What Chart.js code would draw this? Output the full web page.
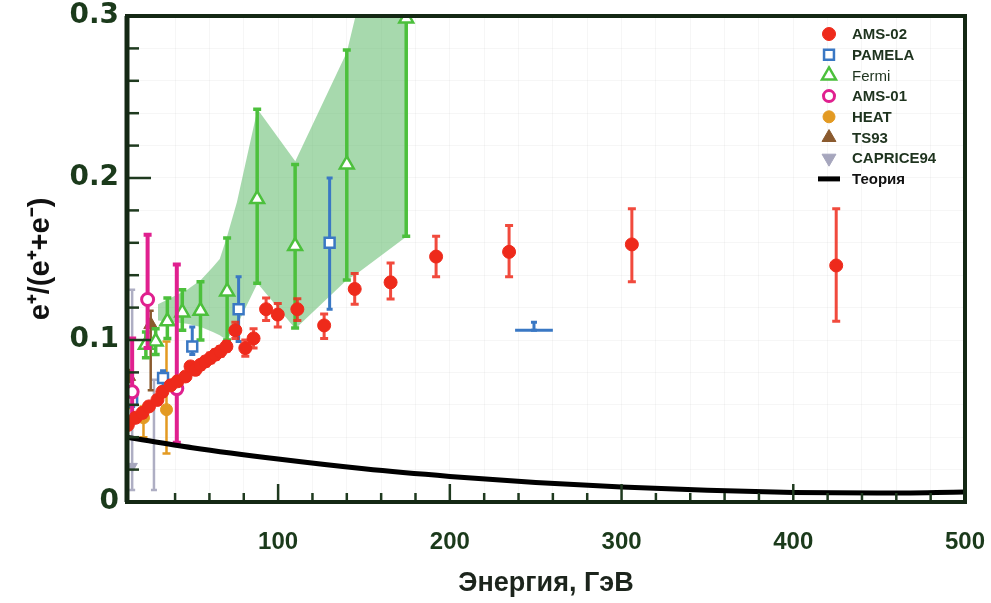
<!DOCTYPE html>
<html>
<head>
<meta charset="utf-8">
<script src="https://cdn.jsdelivr.net/npm/chart.js@4.4.1/dist/chart.umd.min.js"></script>
<style>
  html, body { margin: 0; padding: 0; background: #ffffff; }
  #wrap { width: 991px; height: 603px; position: relative; }
</style>
</head>
<body>
<div id="wrap"><canvas id="myChart"></canvas></div>
<script>

// ===============================
// DATA
// ===============================

const amsE  = [12.5, 17, 21, 24.8, 29.7, 32.6, 37.4, 41.4, 46.1, 49, 51.9, 54.8, 57.7, 60.6, 63.5, 66.4, 69.9, 75.1, 80.9, 85.7, 93, 99.8, 111.2, 126.8, 144.6, 165.5, 192, 234.5, 306, 425];
const amsR  = [0.0476, 0.052, 0.055, 0.059, 0.063, 0.068, 0.072, 0.0745, 0.0775, 0.0837, 0.0816, 0.0847, 0.0868, 0.0889, 0.091, 0.093, 0.096, 0.106, 0.095, 0.101, 0.119, 0.1157, 0.119, 0.109, 0.1315, 0.1356, 0.1515, 0.1544, 0.159, 0.146];
const amsLo = [0.045, 0.0495, 0.0525, 0.0565, 0.0605, 0.0655, 0.0695, 0.072, 0.075, 0.081, 0.079, 0.082, 0.084, 0.086, 0.088, 0.090, 0.093, 0.101, 0.090, 0.095, 0.112, 0.108, 0.112, 0.101, 0.122, 0.1253, 0.139, 0.139, 0.136, 0.1115];
const amsHi = [0.050, 0.0545, 0.0575, 0.0615, 0.0655, 0.0705, 0.0745, 0.077, 0.080, 0.086, 0.084, 0.087, 0.0895, 0.092, 0.094, 0.096, 0.099, 0.111, 0.100, 0.107, 0.126, 0.1225, 0.1255, 0.116, 0.141, 0.1476, 0.164, 0.1707, 0.181, 0.181];

const pamE   = [15, 33, 50, 77, 130, 249];
const pamR   = [0.063, 0.0765, 0.096, 0.119, 0.160, 0.106];
const pamLo  = [0.059, 0.070, 0.091, 0.099, 0.119, 0.106];
const pamHi  = [0.067, 0.081, 0.108, 0.139, 0.200, 0.111];
const pamXLo = [null, null, null, null, null, 238];
const pamXHi = [null, null, null, null, null, 260];

const fermiE  = [23, 28.7, 35.5, 44.2, 54.8, 70.3, 87.8, 109.9, 140, 174.6];
const fermiR  = [0.097, 0.099, 0.1115, 0.117, 0.118, 0.130, 0.187, 0.158, 0.2084, 0.2985];
const fermiLo = [0.089, 0.091, 0.101, 0.106, 0.100, 0.100, 0.135, 0.1074, 0.137, 0.164];
const fermiHi = [0.105, 0.107, 0.126, 0.131, 0.136, 0.163, 0.2424, 0.2084, 0.279, 0.40];

const bandE  = [30, 47, 55, 62, 66, 70, 76, 88, 110, 140, 146, 175];
const bandLo = [0.112, 0.110, 0.108, 0.105, 0.103, 0.100, 0.109, 0.135, 0.107, 0.137, 0.141, 0.164];
const bandHi = [0.122, 0.131, 0.137, 0.145, 0.150, 0.163, 0.185, 0.2424, 0.2104, 0.2776, 0.304, 0.33];

const ams01E  = [15, 24, 41];
const ams01R  = [0.068, 0.125, 0.070];
const ams01Lo = [0.049, 0.095, 0.0365];
const ams01Hi = [0.101, 0.165, 0.1466];

const heatE  = [12.5, 21.6, 35];
const heatR  = [0.062, 0.052, 0.057];
const heatLo = [0.058, 0.040, 0.030];
const heatHi = [0.066, 0.059, 0.099];

const ts93E  = [13, 25.8];
const ts93R  = [0.0775, 0.1095];
const ts93Lo = [0.074, 0.069];
const ts93Hi = [0.081, 0.118];

const capE  = [15, 27.7];
const capR  = [0.022, 0.040];
const capLo = [0.0074, 0.0074];
const capHi = [0.131, 0.0755];

const theoryE = [12, 50, 100, 150, 200, 250, 300, 350, 400, 450, 500];
const theoryR = [0.040, 0.0335, 0.0265, 0.0205, 0.0158, 0.012, 0.0092, 0.0072, 0.0059, 0.0055, 0.0062];

const legendLabels = ['AMS-02', 'PAMELA', 'Fermi', 'AMS-01', 'HEAT', 'TS93', 'CAPRICE94', 'Теория'];

function pts(xs, ys){
    return xs.map((x, i) => ({ x: x, y: ys[i] }));
}

// ===============================
// ERROR BARS
// ===============================

const errorBars = {
    id: 'errorBars',
    beforeDatasetDraw(chart, args){
        const ds = chart.data.datasets[args.index];
        if(!ds.errLo) return;
        const ctx = chart.ctx;
        const xs = chart.scales.x;
        const ys = chart.scales.y;
        const a = chart.chartArea;
        ctx.save();
        ctx.beginPath();
        ctx.rect(a.left, a.top, a.right - a.left, a.bottom - a.top);
        ctx.clip();
        ctx.strokeStyle = ds.errColor;
        ctx.lineWidth = ds.errWidth;
        const cap = ds.capWidth;
        args.meta.data.forEach((pt, i) => {
            const px = pt.x;
            const lo = ys.getPixelForValue(ds.errLo[i]);
            const hi = ys.getPixelForValue(ds.errHi[i]);
            ctx.beginPath();
            ctx.moveTo(px, lo);
            ctx.lineTo(px, hi);
            ctx.moveTo(px - cap, lo);
            ctx.lineTo(px + cap, lo);
            ctx.moveTo(px - cap, hi);
            ctx.lineTo(px + cap, hi);
            ctx.stroke();
            if(ds.errXLo && ds.errXLo[i] != null){
                ctx.beginPath();
                ctx.moveTo(xs.getPixelForValue(ds.errXLo[i]), pt.y);
                ctx.lineTo(xs.getPixelForValue(ds.errXHi[i]), pt.y);
                ctx.stroke();
            }
        });
        ctx.restore();
    }
};

// ===============================
// FRAME, INNER TICKS, LEGEND
// ===============================

function drawMarker(ctx, style, rot, r, x, y){
    ctx.beginPath();
    if(style === 'circle'){
        ctx.arc(x, y, r, 0, Math.PI * 2);
    }
    else if(style === 'rect'){
        const s = r * Math.SQRT1_2;
        ctx.rect(x - s, y - s, s * 2, s * 2);
    }
    else if(style === 'triangle'){
        const d = rot === 180 ? -1 : 1;
        ctx.moveTo(x, y - d * r);
        ctx.lineTo(x + r * 0.87, y + d * r * 0.5);
        ctx.lineTo(x - r * 0.87, y + d * r * 0.5);
        ctx.closePath();
    }
}

const frameAndLegend = {
    id: 'frameAndLegend',
    afterDraw(chart){
        const ctx = chart.ctx;
        const a = chart.chartArea;
        const xs = chart.scales.x;
        const ys = chart.scales.y;

        // inner ticks
        ctx.save();
        ctx.strokeStyle = '#1f3a1f';
        ctx.lineWidth = 2.5;
        xs.ticks.forEach(t => {
            if(t.value <= xs.min || t.value >= xs.max) return;
            const px = xs.getPixelForValue(t.value);
            const len = t.value % 100 === 0 ? 18 : 9;
            ctx.beginPath();
            ctx.moveTo(px, a.bottom);
            ctx.lineTo(px, a.bottom - len);
            ctx.stroke();
        });
        ys.ticks.forEach(t => {
            if(t.value <= ys.min || t.value >= ys.max - 1e-9) return;
            const py = ys.getPixelForValue(t.value);
            const len = Math.round(t.value * 100) % 10 === 0 ? 24 : 12;
            ctx.beginPath();
            ctx.moveTo(a.left, py);
            ctx.lineTo(a.left + len, py);
            ctx.stroke();
        });

        // frame
        ctx.strokeStyle = '#142814';
        ctx.lineWidth = 4;
        ctx.strokeRect(a.left, a.top, a.right - a.left, a.bottom - a.top);
        ctx.lineWidth = 5;
        ctx.beginPath();
        ctx.moveTo(a.left, a.top);
        ctx.lineTo(a.left, a.bottom);
        ctx.stroke();

        // legend
        const lx = 829, tx = 852, ly0 = 34, step = 20.7;
        const items = chart.data.datasets.filter(d => d.inLegend);
        items.forEach((d, i) => {
            const y = ly0 + i * step;
            if(d.legendLine){
                ctx.strokeStyle = d.borderColor;
                ctx.lineWidth = 5;
                ctx.beginPath();
                ctx.moveTo(lx - 11, y);
                ctx.lineTo(lx + 11, y);
                ctx.stroke();
            }
            else{
                drawMarker(ctx, d.pointStyle, d.pointRotation || 0, d.legendRadius, lx, y);
                ctx.fillStyle = d.pointBackgroundColor;
                ctx.fill();
                ctx.strokeStyle = d.pointBorderColor;
                ctx.lineWidth = d.pointBorderWidth;
                ctx.stroke();
            }
            ctx.fillStyle = d.legendLine ? '#111111' : '#1e331e';
            ctx.font = (d.label === 'Fermi' ? '' : 'bold ') + '15px "Liberation Sans", Arial, sans-serif';
            ctx.textBaseline = 'middle';
            ctx.textAlign = 'left';
            ctx.fillText(d.label, tx, y + 1);
        });
        ctx.restore();
    }
};

// ===============================
// DATASETS
// ===============================

const datasets = [
    {
        label: 'FermiBandLo', data: pts(bandE, bandLo), showLine: true,
        pointRadius: 0, borderWidth: 0, fill: false, order: 100
    },
    {
        label: 'FermiBandHi', data: pts(bandE, bandHi), showLine: true,
        pointRadius: 0, borderWidth: 0, fill: '-1',
        backgroundColor: 'rgba(95,185,105,0.55)', order: 99
    },
    {
        label: legendLabels[0], data: pts(amsE, amsR), inLegend: true,
        pointStyle: 'circle', pointRadius: 6.5, legendRadius: 6.5,
        pointBackgroundColor: '#ee2a1b', pointBorderColor: '#ee2a1b', pointBorderWidth: 1,
        errLo: amsLo, errHi: amsHi, errColor: 'rgba(238,42,27,0.85)', errWidth: 3, capWidth: 4,
        order: 2
    },
    {
        label: legendLabels[1], data: pts(pamE, pamR), inLegend: true,
        pointStyle: 'rect', pointRadius: [7, 7, 7, 7, 7, 0], legendRadius: 7,
        pointBackgroundColor: '#ffffff', pointBorderColor: '#3a78c4', pointBorderWidth: 2.5,
        errLo: pamLo, errHi: pamHi, errXLo: pamXLo, errXHi: pamXHi,
        errColor: '#3a78c4', errWidth: 3, capWidth: 3,
        order: 4
    },
    {
        label: legendLabels[2], data: pts(fermiE, fermiR), inLegend: true,
        pointStyle: 'triangle', pointRadius: 8, legendRadius: 8,
        pointBackgroundColor: '#ffffff', pointBorderColor: '#4cc03c', pointBorderWidth: 2.5,
        errLo: fermiLo, errHi: fermiHi, errColor: '#4cc03c', errWidth: 3.5, capWidth: 4,
        order: 5
    },
    {
        label: legendLabels[3], data: pts(ams01E, ams01R), inLegend: true,
        pointStyle: 'circle', pointRadius: 6, legendRadius: 5.5,
        pointBackgroundColor: '#ffffff', pointBorderColor: '#e0208f', pointBorderWidth: 3,
        errLo: ams01Lo, errHi: ams01Hi, errColor: '#e0208f', errWidth: 4, capWidth: 4,
        order: 3
    },
    {
        label: legendLabels[4], data: pts(heatE, heatR), inLegend: true,
        pointStyle: 'circle', pointRadius: 6, legendRadius: 6,
        pointBackgroundColor: '#e39a22', pointBorderColor: '#e39a22', pointBorderWidth: 1,
        errLo: heatLo, errHi: heatHi, errColor: '#e39a22', errWidth: 2.5, capWidth: 4,
        order: 6
    },
    {
        label: legendLabels[5], data: pts(ts93E, ts93R), inLegend: true,
        pointStyle: 'triangle', pointRadius: 8, legendRadius: 8,
        pointBackgroundColor: '#8a5a2e', pointBorderColor: '#8a5a2e', pointBorderWidth: 1,
        errLo: ts93Lo, errHi: ts93Hi, errColor: '#8a5a2e', errWidth: 2.5, capWidth: 3,
        order: 7
    },
    {
        label: legendLabels[6], data: pts(capE, capR), inLegend: true,
        pointStyle: 'triangle', pointRotation: 180, rotation: 180, pointRadius: [6, 0], legendRadius: 8,
        pointBackgroundColor: '#a6a6bd', pointBorderColor: '#a6a6bd', pointBorderWidth: 1,
        errLo: capLo, errHi: capHi, errColor: 'rgba(160,160,185,0.85)', errWidth: 2.5, capWidth: 3,
        order: 8
    },
    {
        label: legendLabels[7], data: pts(theoryE, theoryR), inLegend: true, legendLine: true,
        showLine: true, pointRadius: 0, borderColor: '#000000', borderWidth: 5,
        cubicInterpolationMode: 'monotone', fill: false,
        order: 1
    }
];

// ===============================
// CHART
// ===============================

const ctx = document.getElementById('myChart').getContext('2d');

const myChart = new Chart(ctx, {
    type: 'scatter',
    data: { datasets: datasets },
    plugins: [errorBars, frameAndLegend],
    options: {
        responsive: true,
        maintainAspectRatio: false,
        animation: false,
        layout: { padding: { left: 0, right: 26, top: 16, bottom: 0 } },
        plugins: {
            legend: { display: false },
            tooltip: { enabled: false }
        },
        scales: {
            x: {
                type: 'linear',
                min: 12,
                max: 500,
                afterBuildTicks(scale){
                    scale.ticks = scale.ticks.filter(t => Math.round(t.value) % 20 === 0);
                },
                afterFit(scale){
                    scale.height = 101;
                    scale.paddingLeft = 0;
                    scale.paddingRight = 0;
                },
                border: { display: false },
                grid: { color: 'rgba(0,0,0,0.035)', drawTicks: false },
                ticks: {
                    stepSize: 20,
                    autoSkip: false,
                    maxRotation: 0,
                    padding: 26,
                    color: '#1b3a1b',
                    font: { family: '"Liberation Sans", Arial, sans-serif', size: 24, weight: 'bold' },
                    callback: v => (v % 100 === 0 ? String(v) : '')
                },
                title: {
                    display: true,
                    text: 'Энергия, ГэВ',
                    color: '#1c241c',
                    padding: { top: 0, bottom: 3 },
                    font: { family: '"Liberation Sans", Arial, sans-serif', size: 27, weight: 'bold' }
                }
            },
            y: {
                min: 0,
                max: 0.3,
                afterFit(scale){
                    scale.width = 127;
                    scale.paddingTop = 0;
                    scale.paddingBottom = 0;
                },
                border: { display: false },
                grid: { color: 'rgba(0,0,0,0.035)', drawTicks: false },
                ticks: {
                    stepSize: 0.02,
                    autoSkip: false,
                    padding: 8,
                    color: '#1b3a1b',
                    font: { family: '"DejaVu Sans", sans-serif', size: 28, weight: 'bold' },
                    callback: v => {
                        const k = Math.round(v * 100);
                        if(k % 10 !== 0) return '';
                        return k === 0 ? '0' : (k / 100).toFixed(1);
                    }
                },
                title: {
                    display: true,
                    text: 'e⁺/(e⁺+e⁻)',
                    color: '#111111',
                    padding: { top: 24, bottom: 0 },
                    font: { family: '"Liberation Sans", Arial, sans-serif', size: 29, weight: 'bold' }
                }
            }
        }
    }
});

</script>
</body>
</html>
